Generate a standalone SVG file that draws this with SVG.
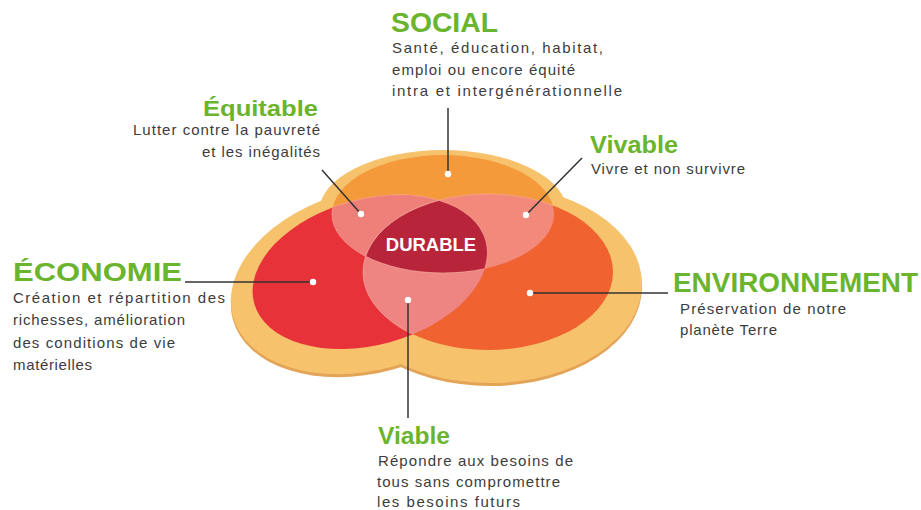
<svg xmlns="http://www.w3.org/2000/svg" xmlns:xlink="http://www.w3.org/1999/xlink" width="921" height="510" viewBox="0 0 921 510">
<style>
.title{font-family:"Liberation Sans",Arial,sans-serif;font-weight:bold;fill:#6ab42e;}
.body{font-family:"Liberation Sans",Arial,sans-serif;font-size:15px;fill:#3c3c3c;}
.conn{stroke:#333;stroke-width:1.5;fill:none;}
.dot{fill:#fff;}
</style>
<defs>
<ellipse id="eSoc" cx="443" cy="214" rx="111" ry="59"/>
<ellipse id="eEco" cx="370" cy="272" rx="120" ry="73" transform="rotate(-15 370 272)"/>
<ellipse id="eEnv" cx="488" cy="272" rx="125" ry="78"/>
<clipPath id="cSoc"><use xlink:href="#eSoc"/></clipPath>
<clipPath id="cEco"><use xlink:href="#eEco"/></clipPath>
</defs>
<rect width="921" height="510" fill="#ffffff"/>
<g id="venn">
  <g id="base-shadow" fill="#e3a458">
    <ellipse cx="443" cy="215" rx="124" ry="62"/>
    <ellipse cx="368" cy="283" rx="140" ry="90" transform="rotate(-15 368 283)"/>
    <ellipse cx="490" cy="287" rx="152" ry="99"/>
  </g>
  <g id="base" fill="#f6c26c">
    <ellipse cx="443" cy="212" rx="124" ry="62"/>
    <ellipse cx="368" cy="280" rx="140" ry="90" transform="rotate(-15 368 280)"/>
    <ellipse cx="490" cy="284" rx="152" ry="99"/>
  </g>
  <use xlink:href="#eSoc" fill="#f49a3b"/>
  <use xlink:href="#eEco" fill="#e8323a"/>
  <use xlink:href="#eEnv" fill="#f06230"/>
  <g clip-path="url(#cSoc)">
    <use xlink:href="#eEco" fill="#ef7f79"/>
    <use xlink:href="#eEnv" fill="#f2897a"/>
  </g>
  <g clip-path="url(#cEco)">
    <use xlink:href="#eEnv" fill="#ef8583"/>
  </g>
  <g clip-path="url(#cSoc)">
    <g clip-path="url(#cEco)">
      <use xlink:href="#eEnv" fill="#b8253a"/>
    </g>
  </g>
  <g fill="none" stroke="#f8b4a4" stroke-width="1" opacity="0.6">
    <g clip-path="url(#cSoc)"><use xlink:href="#eEco"/><use xlink:href="#eEnv"/></g>
    <g clip-path="url(#cEco)"><use xlink:href="#eEnv"/><use xlink:href="#eSoc"/></g>
  </g>
</g>
<g id="connectors">
  <line class="conn" x1="448" y1="108" x2="448" y2="174"/>
  <line class="conn" x1="322" y1="170" x2="361" y2="214"/>
  <line class="conn" x1="582" y1="158" x2="526" y2="215"/>
  <line class="conn" x1="185" y1="282" x2="313" y2="282"/>
  <line class="conn" x1="668" y1="293" x2="530" y2="293"/>
  <line class="conn" x1="408" y1="418" x2="408" y2="300"/>
  <circle class="dot" cx="448" cy="174" r="3.2"/>
  <circle class="dot" cx="361" cy="214" r="3.2"/>
  <circle class="dot" cx="526" cy="215" r="3.2"/>
  <circle class="dot" cx="313" cy="282" r="3.2"/>
  <circle class="dot" cx="530" cy="293" r="3.2"/>
  <circle class="dot" cx="408" cy="300" r="3.2"/>
</g>
<g id="durable">
  <text x="431" y="251" text-anchor="middle" font-family="Liberation Sans, Arial, sans-serif" font-weight="bold" font-size="18.5" fill="#ffffff">DURABLE</text>
</g>
<g id="social">
  <text class="title" x="391" y="32" font-size="27" textLength="107" lengthAdjust="spacingAndGlyphs">SOCIAL</text>
  <text class="body" x="392" y="53" textLength="211">Santé, éducation, habitat,</text>
  <text class="body" x="392" y="74.5" textLength="183">emploi ou encore équité</text>
  <text class="body" x="392" y="96" textLength="230">intra et intergénérationnelle</text>
</g>
<g id="equitable">
  <text class="title" x="203" y="116" font-size="22" textLength="115" lengthAdjust="spacingAndGlyphs">Équitable</text>
  <text class="body" x="133" y="135" textLength="187">Lutter contre la pauvreté</text>
  <text class="body" x="202" y="157" textLength="118">et les inégalités</text>
</g>
<g id="vivable">
  <text class="title" x="590" y="153" font-size="23" textLength="88" lengthAdjust="spacingAndGlyphs">Vivable</text>
  <text class="body" x="591" y="174" textLength="154">Vivre et non survivre</text>
</g>
<g id="economie">
  <text class="title" x="13" y="280.5" font-size="26" textLength="169" lengthAdjust="spacingAndGlyphs">ÉCONOMIE</text>
  <text class="body" x="13" y="303" textLength="212">Création et répartition des</text>
  <text class="body" x="13" y="325" textLength="172">richesses, amélioration</text>
  <text class="body" x="13" y="347.5" textLength="162">des conditions de vie</text>
  <text class="body" x="13" y="370" textLength="79">matérielles</text>
</g>
<g id="environnement">
  <text class="title" x="673" y="292" font-size="27" textLength="245" lengthAdjust="spacingAndGlyphs">ENVIRONNEMENT</text>
  <text class="body" x="680" y="314" textLength="166">Préservation de notre</text>
  <text class="body" x="680" y="335" textLength="97">planète Terre</text>
</g>
<g id="viable">
  <text class="title" x="378" y="444" font-size="23" textLength="72" lengthAdjust="spacingAndGlyphs">Viable</text>
  <text class="body" x="378" y="466" textLength="195">Répondre aux besoins de</text>
  <text class="body" x="377" y="486.5" textLength="183">tous sans compromettre</text>
  <text class="body" x="377" y="507" textLength="143">les besoins futurs</text>
</g>
</svg>
